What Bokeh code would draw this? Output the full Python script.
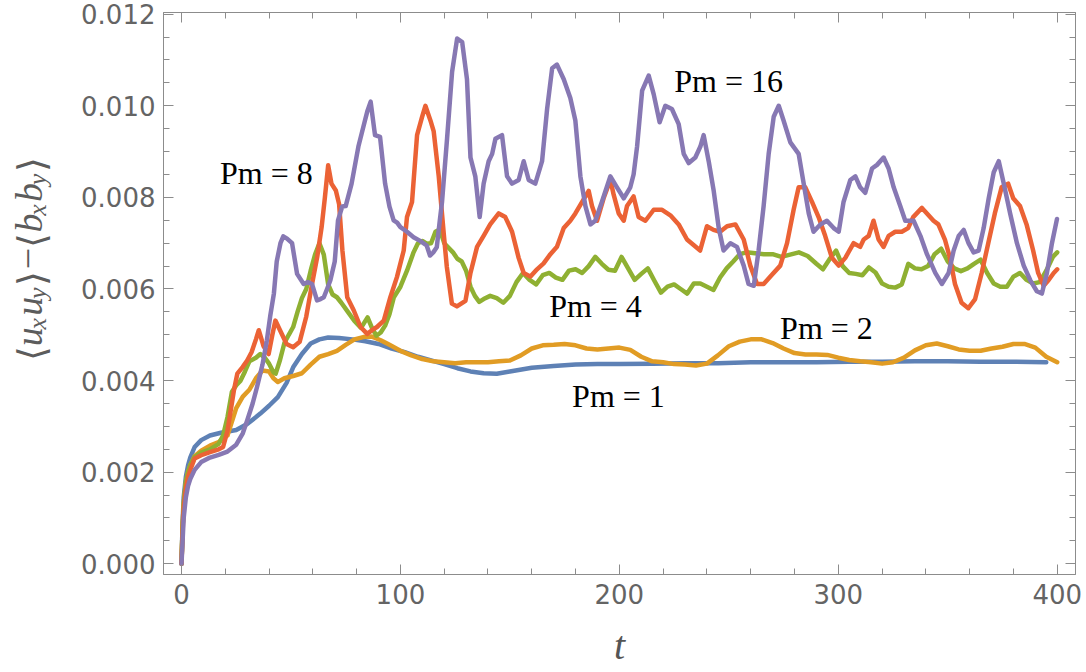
import math
import numpy as np
from bokeh.plotting import figure
from bokeh.layouts import row
from bokeh.models import (Range1d, LinearAxis, SingleIntervalTicker, NumeralTickFormatter,
                          CustomJSTickFormatter, Label)
from bokeh.embed import file_html
from bokeh.resources import INLINE

# ---------------- data (values in units of 1e-3) ----------------
pm1_points = [(0, 0), (0.5, 0.9), (1, 1.45), (2, 1.9), (3, 2.15), (4, 2.32), (6, 2.55), (9, 2.7), (13, 2.8),
              (18, 2.86), (25, 2.92), (30, 3.05), (36, 3.28), (40, 3.45), (44, 3.64), (48, 3.95), (51, 4.29),
              (55, 4.58), (59, 4.81), (63, 4.9), (67, 4.94), (72, 4.93), (78, 4.9), (84, 4.86), (90, 4.8),
              (96, 4.7), (102, 4.62), (108, 4.52), (114, 4.44), (120, 4.36), (126, 4.27), (132, 4.2),
              (138, 4.16), (144, 4.15), (150, 4.2), (160, 4.28), (170, 4.32), (180, 4.35), (190, 4.36),
              (200, 4.36), (215, 4.37), (230, 4.38), (245, 4.38), (260, 4.4), (275, 4.4), (290, 4.4),
              (305, 4.41), (320, 4.41), (335, 4.42), (350, 4.42), (365, 4.41), (380, 4.41), (395, 4.4)]

pm2_points = [(0, 0), (0.5, 0.8), (1, 1.3), (2, 1.75), (3, 2.0), (4, 2.15), (6, 2.35), (9, 2.47), (13, 2.58),
              (17, 2.66), (21, 2.8), (25, 3.4), (28, 3.65), (31, 3.8), (34, 4.05), (37, 4.22), (40, 4.2),
              (42, 4.05), (44, 3.97), (47, 4.05), (51, 4.1), (55, 4.16), (59, 4.35), (63, 4.52), (67, 4.58),
              (71, 4.65), (75, 4.78), (79, 4.9), (83, 4.95), (87, 4.96), (91, 4.88), (95, 4.78), (100, 4.65),
              (105, 4.55), (110, 4.47), (115, 4.42), (120, 4.4), (125, 4.38), (130, 4.4), (135, 4.4),
              (140, 4.4), (145, 4.42), (150, 4.44), (155, 4.55), (160, 4.7), (165, 4.77), (170, 4.78),
              (175, 4.8), (180, 4.77), (185, 4.7), (190, 4.68), (195, 4.7), (200, 4.72), (205, 4.67),
              (210, 4.52), (215, 4.42), (220, 4.4), (225, 4.36), (230, 4.35), (235, 4.33), (240, 4.37),
              (245, 4.55), (250, 4.75), (255, 4.85), (260, 4.9), (265, 4.9), (270, 4.82), (275, 4.7),
              (280, 4.6), (285, 4.57), (290, 4.57), (295, 4.56), (300, 4.5), (305, 4.45), (310, 4.42),
              (315, 4.4), (320, 4.37), (325, 4.4), (330, 4.5), (335, 4.66), (340, 4.77), (345, 4.81),
              (350, 4.75), (355, 4.68), (360, 4.65), (365, 4.65), (370, 4.7), (375, 4.74), (380, 4.8),
              (385, 4.8), (390, 4.72), (395, 4.52), (400, 4.4)]

pm4_points = [(0, 0), (0.5, 0.8), (1, 1.3), (2, 1.8), (3, 2.0), (4, 2.15), (6, 2.33), (9, 2.43), (13, 2.5),
              (17, 2.62), (19, 2.8), (21, 3.2), (23, 3.75), (25, 3.9), (27, 4.0), (29, 4.2), (31, 4.42),
              (34, 4.5), (36, 4.58), (38, 4.5), (40, 4.37), (42, 4.18), (43, 4.15), (45, 4.45), (47, 4.82),
              (49, 5.0), (51, 5.17), (53, 5.5), (55, 5.8), (57, 6.0), (59, 6.4), (61, 6.75), (63, 7.0),
              (65, 6.75), (67, 6.1), (69, 5.88), (71, 5.82), (73, 5.7), (76, 5.5), (79, 5.3), (82, 5.15),
              (85, 5.38), (87, 5.15), (89, 4.98), (91, 5.05), (93, 5.2), (95, 5.45), (97, 5.82), (100, 6.05),
              (103, 6.4), (106, 6.8), (108, 7.0), (110, 7.05), (112, 6.99), (114, 7.0), (116, 7.25),
              (118, 7.3), (120, 7.0), (122, 6.9), (124, 6.8), (126, 6.66), (128, 6.6), (130, 6.4),
              (132, 6.05), (134, 5.85), (136, 5.72), (138, 5.78), (141, 5.85), (144, 5.8), (147, 5.7),
              (150, 5.85), (153, 6.15), (156, 6.35), (159, 6.2), (162, 6.1), (165, 6.3), (168, 6.35),
              (171, 6.25), (174, 6.2), (177, 6.4), (180, 6.43), (183, 6.35), (186, 6.5), (189, 6.7),
              (192, 6.55), (195, 6.42), (198, 6.4), (201, 6.7), (204, 6.45), (207, 6.2), (210, 6.33),
              (213, 6.45), (216, 6.18), (219, 5.92), (222, 6.05), (225, 6.1), (228, 6.0), (231, 5.9),
              (234, 6.12), (237, 6.12), (240, 6.05), (243, 5.98), (246, 6.25), (249, 6.45), (252, 6.6),
              (255, 6.76), (258, 6.8), (262, 6.78), (266, 6.76), (270, 6.76), (274, 6.7), (278, 6.75),
              (282, 6.8), (286, 6.72), (290, 6.55), (293, 6.43), (296, 6.65), (299, 6.84), (302, 6.5),
              (305, 6.35), (308, 6.33), (311, 6.3), (314, 6.47), (317, 6.36), (320, 6.12), (323, 6.05),
              (326, 6.03), (329, 6.1), (332, 6.55), (335, 6.45), (338, 6.43), (341, 6.5), (344, 6.76),
              (347, 6.88), (350, 6.6), (353, 6.45), (356, 6.39), (359, 6.45), (362, 6.55), (365, 6.64),
              (368, 6.35), (371, 6.12), (374, 6.05), (377, 6.05), (380, 6.27), (383, 6.35), (386, 6.2),
              (389, 6.12), (392, 6.15), (395, 6.4), (398, 6.7), (400, 6.8)]

pm8_points = [(0, 0), (0.5, 0.7), (1, 1.2), (2, 1.65), (3, 1.9), (4, 2.05), (6, 2.3), (9, 2.37), (13, 2.44),
              (17, 2.5), (19, 2.55), (21, 2.9), (22, 3.2), (24, 3.8), (25.5, 4.15), (28, 4.3), (30, 4.44),
              (32, 4.62), (34, 4.9), (35.3, 5.1), (37.5, 4.75), (39.8, 4.58), (41.5, 5.0), (42.9, 5.31),
              (45, 5.1), (48, 4.8), (51, 4.73), (54, 4.85), (57, 5.4), (59.6, 6.1), (62, 6.7), (64, 7.35),
              (65.5, 8.0), (67, 8.7), (68.5, 8.3), (70.5, 8.15), (72, 7.85), (73.5, 6.84), (75.7, 5.82),
              (78.7, 5.53), (81.8, 5.17), (84.8, 5.02), (87, 5.1), (89.3, 5.17), (92.4, 5.31), (95.4, 5.82),
              (98.4, 6.26), (101.5, 6.84), (103, 7.57), (105.3, 7.9), (107.6, 9.36), (109.9, 9.76),
              (111.4, 10.0), (113.7, 9.68), (115.2, 9.44), (117.5, 8.46), (119.8, 7.2), (121.2, 6.48),
              (123.5, 5.68), (125.8, 5.62), (129.7, 5.74), (132, 6.35), (135, 6.92), (138, 7.16),
              (141, 7.41), (144.9, 7.65), (147.9, 7.57), (151, 7.25), (154, 6.68), (156.3, 6.35),
              (159.4, 6.27), (162.4, 6.43), (165.4, 6.56), (168.5, 6.76), (171.5, 6.92), (174.6, 7.33),
              (177.6, 7.49), (179.9, 7.65), (183, 7.9), (186, 8.14), (187.5, 7.81), (189.8, 7.49),
              (192.8, 7.98), (195.9, 8.38), (197.4, 8.06), (199.7, 7.65), (202, 7.49), (203.5, 7.81),
              (206.5, 8.02), (208.8, 7.57), (211.9, 7.49), (215.7, 7.73), (219.5, 7.73), (223.3, 7.61),
              (227.1, 7.41), (230.9, 7.08), (233.9, 6.96), (236.9, 6.84), (240, 7.37), (243, 7.29),
              (246, 7.25), (249.2, 7.37), (253, 7.41), (256.8, 7.08), (259.8, 6.51), (262.9, 6.11),
              (265.9, 6.11), (269.7, 6.31), (273.5, 6.51), (276.6, 7.0), (279.6, 7.73), (281.9, 8.22),
              (284.9, 8.22), (288, 7.9), (291, 7.57), (294, 7.16), (297.1, 6.68), (300.2, 6.51),
              (303.2, 6.68), (307, 7.0), (310, 6.92), (311.6, 7.08), (313.9, 7.16), (316.1, 7.49),
              (318.4, 7.08), (320.7, 6.92), (323, 7.16), (326, 7.25), (329, 7.25), (331.9, 7.33),
              (334.2, 7.57), (338.2, 7.77), (340.5, 7.65), (343.5, 7.49), (345.7, 7.41), (348.7, 7.08),
              (351, 6.68), (353.3, 6.11), (356.3, 5.7), (359.4, 5.58), (362.5, 5.78), (365.5, 6.35),
              (368.5, 7.0), (371.5, 7.65), (374.6, 8.22), (377.6, 8.3), (379.9, 7.98), (383, 7.81),
              (386, 7.41), (389, 6.84), (391.3, 6.35), (393.8, 6.07), (396, 6.19), (398.4, 6.35), (400, 6.43)]

pm16_points = [(0, 0), (0.5, 0.5), (1, 1.0), (2, 1.45), (3, 1.7), (4, 1.85), (6, 2.05), (9, 2.22), (13, 2.32),
               (17, 2.38), (21, 2.45), (25, 2.6), (28, 2.85), (30, 3.13), (32.5, 3.5), (34.5, 3.86), (37, 4.35),
               (39, 4.88), (40.5, 5.4), (42.2, 5.9), (43.5, 6.6), (45.2, 7.0), (46.5, 7.15), (48.2, 7.1),
               (50.5, 7.0), (52.8, 6.33), (55.8, 6.11), (57.7, 6.15), (59.6, 6.11), (61.9, 5.75), (63.5, 5.78),
               (65, 5.82), (66.5, 6.0), (68, 6.19), (70, 6.6), (71.5, 7.5), (73.4, 7.8), (75, 7.81),
               (77.7, 8.3), (80.8, 9.11), (83.8, 9.68), (85, 9.9), (86.4, 10.09), (88, 9.5), (88.4, 9.36),
               (90.7, 9.32), (93, 8.3), (95, 7.8), (96.9, 7.5), (98.5, 7.45), (100, 7.35), (103, 7.25),
               (106, 7.13), (109, 7.05), (112, 6.95), (113.5, 6.73), (115, 6.8), (116.6, 6.91), (118, 7.5),
               (119, 7.9), (121.3, 9.28), (123.6, 10.74), (125.9, 11.47), (128.2, 11.39), (130.4, 10.58),
               (132, 8.87), (134.2, 8.46), (136.2, 7.57), (138, 8.3), (140.3, 8.79), (141.9, 8.95),
               (143.4, 9.28), (146.4, 9.36), (148.7, 8.46), (151, 8.3), (154, 8.38), (156.3, 8.79),
               (158.6, 8.38), (161.6, 8.3), (164.7, 8.79), (167, 9.93), (169.3, 10.82), (171.5, 10.9),
               (174.6, 10.58), (177.6, 10.17), (179.9, 9.68), (182.2, 8.46), (184.5, 7.81), (186.8, 7.41),
               (189, 7.49), (192, 7.9), (195.9, 8.46), (198.9, 8.22), (202, 7.98), (205, 8.22), (206.5, 8.5),
               (208.1, 9.11), (210.4, 10.33), (213.4, 10.66), (215.7, 10.25), (218.4, 9.64), (221, 10.0),
               (224, 9.93), (227.1, 9.6), (229.4, 8.95), (231.7, 8.75), (234.7, 8.87), (237, 9.11),
               (238.5, 9.36), (240.8, 8.79), (243.1, 8.14), (245.4, 7.33), (247.6, 6.84), (250.7, 7.0),
               (253.7, 6.92), (256.8, 6.51), (259, 6.11), (261.4, 6.07), (263.6, 6.84), (265.9, 7.81),
               (268.2, 8.95), (270.5, 9.76), (272.8, 10.0), (275, 9.68), (278.1, 9.2), (281.9, 8.95),
               (284.2, 8.3), (286.5, 7.65), (288.7, 7.25), (291.8, 7.41), (294.8, 7.49), (297.9, 7.33),
               (300.2, 7.25), (302.4, 7.9), (305.5, 8.38), (307.8, 8.46), (310, 8.22), (312.3, 8.1),
               (315.4, 8.63), (317.7, 8.71), (320.7, 8.87), (323, 8.63), (325.3, 8.22), (328.3, 7.81),
               (330.6, 7.49), (334.4, 7.49), (337.5, 7.16), (340.5, 6.76), (344.3, 6.35), (347.3, 6.11),
               (350.4, 6.35), (352.7, 6.84), (355, 7.16), (357.3, 7.29), (359.5, 7.0), (361.8, 6.8),
               (364.1, 6.84), (366.4, 7.33), (368.7, 7.98), (371, 8.55), (373.3, 8.79), (375.6, 8.3),
               (378.5, 7.65), (381.6, 7.0), (384.7, 6.51), (387.7, 6.19), (390.7, 5.95), (393, 5.9),
               (395.3, 6.35), (397.6, 7.0), (399.9, 7.53)]

series_names = ["Pm = 1", "Pm = 2", "Pm = 4", "Pm = 8", "Pm = 16"]
series_points = [pm1_points, pm2_points, pm4_points, pm8_points, pm16_points]
series_colors = ["#5E81B5", "#E19C24", "#8FB032", "#EB6235", "#8778B3"]
VALUE_UNIT = 1e-3

# label anchor positions (t, value) for the series names
ann_t = [199.6, 294.6, 189.1, 38.8, 249.9]
ann_v = [0.003664, 0.005159, 0.005618, 0.008542, 0.010552]

x_tick_interval = 100
y_tick_interval = 0.002

# ---------------- geometry ----------------
PAGE_W, PAGE_H = 1086, 672
YLAB_W = 60
FRAME_L, FRAME_T, FRAME_W, FRAME_H = 163, 12, 912, 562   # page pixels
X0, X1 = -8.22, 408.35
Y0, Y1 = -0.000234, 0.012037

AX_COL = "#8c8c8c"
LBL_COL = "#646464"

p = figure(frame_width=FRAME_W, frame_height=FRAME_H,
           x_range=Range1d(X0, X1), y_range=Range1d(Y0, Y1),
           x_axis_type=None, y_axis_type=None,
           output_backend="svg", toolbar_location=None,
           min_border_left=FRAME_L - YLAB_W, min_border_top=FRAME_T,
           min_border_right=PAGE_W - FRAME_L - FRAME_W,
           min_border_bottom=PAGE_H - FRAME_T - FRAME_H)
p.grid.visible = False
p.outline_line_color = AX_COL
p.outline_line_width = 1
p.background_fill_color = "white"
p.border_fill_color = "white"


def style_axis(ax, labels=True, standoff=8):
    ax.axis_line_color = AX_COL
    ax.major_tick_line_color = AX_COL
    ax.minor_tick_line_color = AX_COL
    ax.major_tick_in = 10
    ax.major_tick_out = 0
    ax.minor_tick_in = 6
    ax.minor_tick_out = 0
    if labels:
        ax.major_label_text_font = "DejaVu Sans"
        ax.major_label_text_font_size = "26px"
        ax.major_label_text_color = LBL_COL
        ax.major_label_standoff = standoff
    else:
        ax.formatter = CustomJSTickFormatter(code="return ''")
        ax.major_label_text_font_size = "0px"
        ax.major_label_standoff = 0


xb = LinearAxis(ticker=SingleIntervalTicker(interval=x_tick_interval, num_minor_ticks=5),
                formatter=NumeralTickFormatter(format="0"))
style_axis(xb, True, 9)
xb.axis_label = "t"
xb.axis_label_text_font = "Liberation Serif"
xb.axis_label_text_font_style = "italic"
xb.axis_label_text_font_size = "40px"
xb.axis_label_text_color = "#555555"
xb.axis_label_standoff = 16
p.add_layout(xb, "below")

yl = LinearAxis(ticker=SingleIntervalTicker(interval=y_tick_interval, num_minor_ticks=4),
                formatter=NumeralTickFormatter(format="0.000"))
style_axis(yl, True, 8)
p.add_layout(yl, "left")

xt = LinearAxis(ticker=SingleIntervalTicker(interval=x_tick_interval, num_minor_ticks=5))
style_axis(xt, False)
p.add_layout(xt, "above")

yr = LinearAxis(ticker=SingleIntervalTicker(interval=y_tick_interval, num_minor_ticks=4))
style_axis(yr, False)
p.add_layout(yr, "right")

# ---------------- series ----------------
for pts, col in zip(series_points, series_colors):
    t = np.array([a for a, b in pts], dtype=float)
    v = np.array([b for a, b in pts], dtype=float) * VALUE_UNIT
    p.line(t, v, line_color=col, line_width=4.5, line_join="round", line_cap="round")

# ---------------- series-name annotations ----------------
for name, tt, vv in zip(series_names, ann_t, ann_v):
    p.add_layout(Label(x=tt, y=vv, text=name, text_font="Liberation Serif",
                       text_font_size="32px", text_color="black",
                       text_align="center", text_baseline="alphabetic"))

# ---------------- y-axis title in its own narrow panel ----------------
ylab = figure(width=YLAB_W, height=PAGE_H, x_range=Range1d(0, YLAB_W), y_range=Range1d(0, PAGE_H),
              x_axis_type=None, y_axis_type=None, output_backend="svg", toolbar_location=None,
              min_border=0, min_border_left=0, min_border_right=0, min_border_top=0, min_border_bottom=0)
ylab.outline_line_color = None
ylab.grid.visible = False
ylab.background_fill_color = "white"
ylab.border_fill_color = "white"

F_MAIN, F_SUB = 38, 26
pieces = [("⟨", "br"), ("u", "m"), ("x", "s"), ("u", "m"), ("y", "s"), ("⟩", "br"),
          ("−", "op"), ("⟨", "br"), ("b", "m"), ("x", "s"), ("b", "m"), ("y", "s"), ("⟩", "br")]
adv = {"br": 15, "m": 19, "s": 11.5, "op": 21}
gap_after = [3, 1, 5, 1, 4, 5, 5, 3, 1, 5, 1, 4, 0]
base_px = {"br": 31, "m": 28, "s": 37, "op": 28}
cur = 417.0   # page y of the start (bottom) of the title
for (txt, kind), g in zip(pieces, gap_after):
    italic = kind in ("m", "s")
    ylab.add_layout(Label(x=base_px[kind], y=PAGE_H - cur, text=txt,
                          angle=math.pi / 2, angle_units="rad",
                          text_font="Liberation Serif",
                          text_font_style="italic" if italic else "normal",
                          text_font_size=f"{F_SUB if kind == 's' else F_MAIN}px",
                          text_color="#5c5c5c", text_align="left", text_baseline="alphabetic"))
    cur -= adv[kind] + g

layout = row(ylab, p, spacing=0)
open("out.html", "w").write(file_html(layout, INLINE))
